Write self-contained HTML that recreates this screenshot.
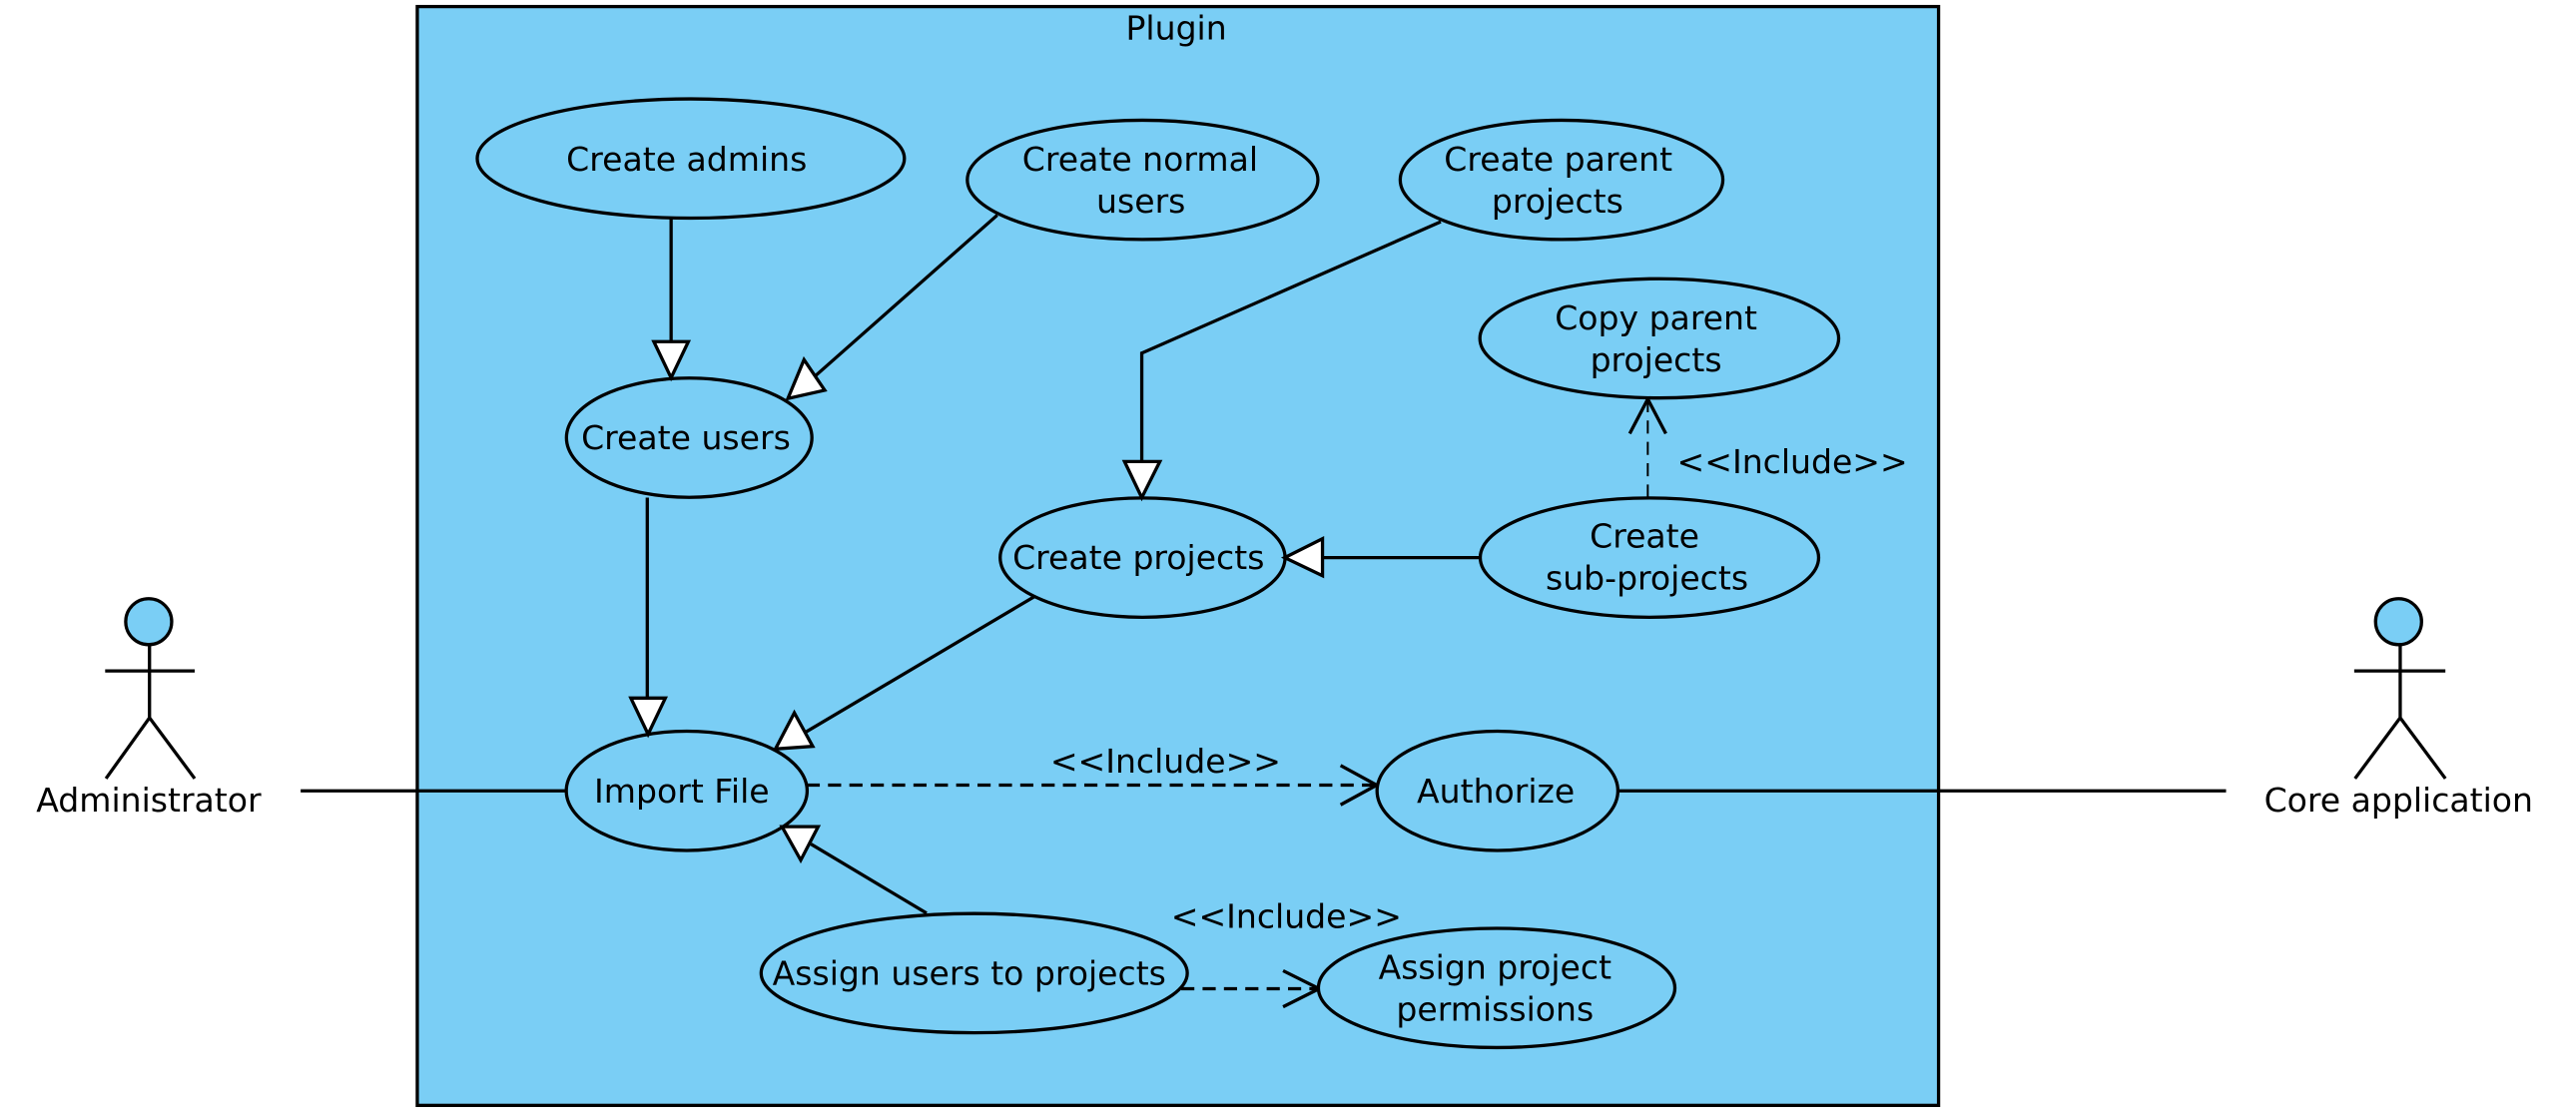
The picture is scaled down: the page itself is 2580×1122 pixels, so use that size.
<!DOCTYPE html>
<html><head><meta charset="utf-8"><style>
html,body{margin:0;padding:0;background:#fff;width:2580px;height:1122px;overflow:hidden}
svg{display:block}
text{font-family:"DejaVu Sans","Liberation Sans",sans-serif;font-size:20.1px;fill:#000;text-anchor:middle}
.s{fill:none;stroke:#000;stroke-width:2}
.e{fill:#7aCEF5;stroke:#000;stroke-width:2}
.t{fill:#fff;stroke:#000;stroke-width:2;stroke-linejoin:miter}
.d{fill:none;stroke:#000;stroke-width:2;stroke-dasharray:8 5}
</style></head><body>
<svg width="2580" height="1122" viewBox="0 0 1568 681.9" xmlns="http://www.w3.org/2000/svg">
<rect x="254" y="4" width="926" height="669" class="e"/>
<text x="716" y="24">Plugin</text>

<path class="s" d="M183 481.5H345M985 481.5H1355"/>
<path class="s" d="M408.5 133V208M607 131L495 230M877 135L695 215V281M901 339.5H805M394 303V425M630 363L490 446M564 556L493.6 513.9"/>
<path class="d" d="M491 478H838M719 602H803"/>
<path d="M1003 303V243" fill="none" stroke="#000" stroke-width="1.2" stroke-dasharray="8 5"/>
<path class="s" d="M816 466L838 478L816 490M781 591L803 602L781 613M992 264L1003 243L1014 264"/>

<ellipse class="e" cx="420.5" cy="96.5" rx="130" ry="36.3"/>
<ellipse class="e" cx="695.5" cy="109.5" rx="106.7" ry="36.3"/>
<ellipse class="e" cx="950.5" cy="109.5" rx="98.2" ry="36.3"/>
<ellipse class="e" cx="1010" cy="206" rx="109.2" ry="36.3"/>
<ellipse class="e" cx="419.5" cy="266.5" rx="74.7" ry="36.3"/>
<ellipse class="e" cx="695.5" cy="339.5" rx="86.7" ry="36.3"/>
<ellipse class="e" cx="1004" cy="339.5" rx="103" ry="36.3"/>
<ellipse class="e" cx="418" cy="481.5" rx="73.3" ry="36.3"/>
<ellipse class="e" cx="911.5" cy="481.5" rx="73.3" ry="36.3"/>
<ellipse class="e" cx="593" cy="592.5" rx="129.7" ry="36.3"/>
<ellipse class="e" cx="911" cy="601.5" rx="108.5" ry="36.3"/>

<path class="t" d="M398 208H419L408.5 230Z"/>
<path class="t" d="M479.6 242.6L489.4 219L502 237.6Z"/>
<path class="t" d="M684.5 281H706L695 303Z"/>
<path class="t" d="M782 339.5L805 328V350.5Z"/>
<path class="t" d="M384 425H405L394.5 447Z"/>
<path class="t" d="M472 456L483.5 434L494.7 454.4Z"/>
<path class="t" d="M476 503.3H498L487.4 523.7Z"/>

<text x="418" y="104">Create admins</text>
<text x="694" y="104">Create normal</text>
<text x="694.500" y="129.500">users</text>
<text x="948.500" y="104">Create parent</text>
<text x="948" y="129.500">projects</text>
<text x="1008" y="200.500">Copy parent</text>
<text x="1008" y="226">projects</text>
<text x="417.500" y="273.500">Create users</text>
<text x="693" y="346.500">Create projects</text>
<text x="1001" y="333.500">Create</text>
<text x="1002.500" y="359">sub-projects</text>
<text x="415" y="488.500">Import File</text>
<text x="910.500" y="488.500">Authorize</text>
<text x="590" y="599.500">Assign users to projects</text>
<text x="910" y="596">Assign project</text>
<text x="910" y="621.500">permissions</text>
<text x="709.500" y="470.500">&lt;&lt;Include&gt;&gt;</text>
<text x="783" y="565">&lt;&lt;Include&gt;&gt;</text>
<text x="1091" y="288">&lt;&lt;Include&gt;&gt;</text>

<ellipse class="e" cx="90.500" cy="378.500" rx="14" ry="14"/>
<path class="s" d="M91 392.500V437M64 408.500H118.500M64.500 474L91 437L118.500 474"/>
<text x="90.500" y="494">Administrator</text>

<ellipse class="e" cx="1460" cy="378.500" rx="14" ry="14"/>
<path class="s" d="M1461 392.500V437M1433 408.500H1488.500M1433.500 474L1461 437L1488.500 474"/>
<text x="1460" y="494">Core application</text>
</svg>
</body></html>
